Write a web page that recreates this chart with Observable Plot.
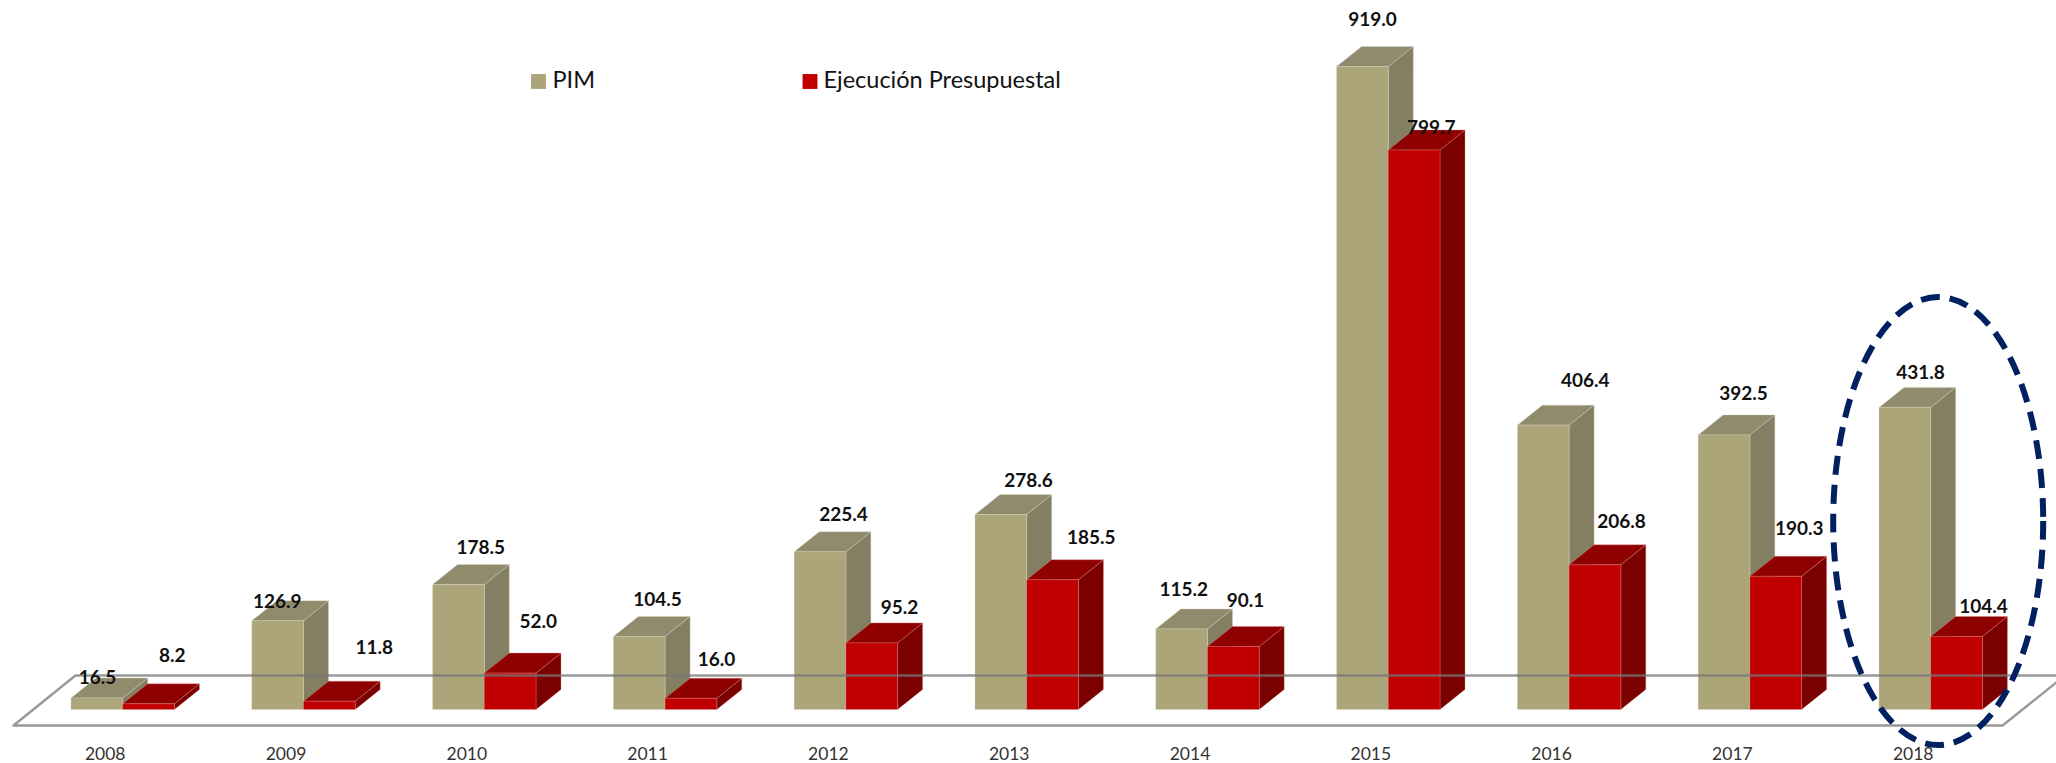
<!DOCTYPE html>
<html>
<head>
<meta charset="utf-8">
<script src="https://cdn.jsdelivr.net/npm/d3@7"></script>
<script src="https://cdn.jsdelivr.net/npm/@observablehq/plot@0.6"></script>
<style>
  html,body{margin:0;padding:0;background:#fff;}
  svg{display:block;}
</style>
</head>
<body>
<div id="chart"></div>
<script>
const years = [2008,2009,2010,2011,2012,2013,2014,2015,2016,2017,2018];
const pim = [16.5,126.9,178.5,104.5,225.4,278.6,115.2,919.0,406.4,392.5,431.8];
const ejecucion = [8.2,11.8,52.0,16.0,95.2,185.5,90.1,799.7,206.8,190.3,104.4];
const seriesNames = ["PIM","Ejecución Presupuestal"];

// label placement, in pixels relative to the top-front of the group
const pimNudgeX = [-25.7,-26.8,-4,-8.1,-2.9,1.3,-24.2,-16.3,15.6,-6.9,-10.7];
const pimNudgeY = [20.3,19.2,36.9,37.4,37.8,34.6,39.9,47.5,45.1,41.2,34.7];
const ejeNudgeX = [49.1,70.2,53.4,50.9,53.1,64,37.5,42.4,51.9,48.8,52.3];
const ejeNudgeY = [48.8,53.8,52.1,39.3,35.2,42,46.5,22.3,43.1,47.6,30.5];

const W = 2056, H = 763, depthX = 25, depthY = 20;
const barW = 0.286; // bar width in years
const rows = years.map((year,i)=>({year,pim:pim[i],eje:ejecucion[i],i}));
const pxX = 1808/10, pxY = 643/919;

function box3d(key, x1, x2, front, top, side, edge){
  return Plot.rect(rows,{
    x1, x2, y1:()=>0, y2:d=>d[key], fill:front, stroke:edge, strokeWidth:1, strokeOpacity:0.35,
    render(index,scales,values,dims,ctx,next){
      const g = next(index,scales,values,dims,ctx);
      const first = g.firstChild;
      for(const i of index){
        const l=values.x1[i], r=values.x2[i], t=Math.min(values.y1[i],values.y2[i]), b=Math.max(values.y1[i],values.y2[i]);
        g.insertBefore(d3.create("svg:polygon")
          .attr("points",[[r,t],[r+depthX,t-depthY],[r+depthX,b-depthY],[r,b]].join(" "))
          .attr("fill",side).node(), first);
        g.insertBefore(d3.create("svg:polygon")
          .attr("points",[[l,t],[l+depthX,t-depthY],[r+depthX,t-depthY],[r,t]].join(" "))
          .attr("fill",top).node(), first);
      }
      return g;
    }
  });
}

const font = "Lato, 'Open Sans', sans-serif";
const floorX = [2007.393,2018.395,2018.74,2007.736,2007.393];
const floorY = [-22.2,-22.2,49.3,49.3,-22.2];
const floor = floorX.map((x,i)=>({x,y:floorY[i]}));

const chart = Plot.plot({
  width:W, height:H, margin:0, marginBottom:20,
  style:{background:"#fff",fontFamily:font,overflow:"hidden"},
  x:{type:"linear",domain:[2008,2018],range:[122.7,1930.7],axis:null},
  y:{domain:[0,919],range:[709.5,66.5],axis:null},
  marks:[
    box3d("pim",d=>d.year-barW,d=>d.year,"#ada57a","#918b6e","#847f63","#d9d6c4"),
    box3d("eje",d=>d.year,d=>d.year+barW,"#c00000","#8f0000","#7b0000","#e08a8a"),
    Plot.line(floor,{x:"x",y:"y",stroke:"#777",strokeWidth:2.4,strokeOpacity:0.75,strokeLinejoin:"miter"}),
    Plot.axisX(years,{anchor:"bottom",tickSize:0,tickPadding:4,dx:-18,dy:0,fontSize:17.5,fill:"#333",tickFormat:d=>String(d),label:null}),
    Plot.text(rows,{x:d=>d.year+pimNudgeX[d.i]/pxX,y:d=>d.pim+pimNudgeY[d.i]/pxY,text:d=>d.pim.toFixed(1),fontSize:19,fontWeight:700,fill:"#111"}),
    Plot.text(rows,{x:d=>d.year+ejeNudgeX[d.i]/pxX,y:d=>d.eje+ejeNudgeY[d.i]/pxY,text:d=>d.eje.toFixed(1),fontSize:19,fontWeight:700,fill:"#111"}),
    // legend
    Plot.dot([seriesNames[0]],{frameAnchor:"top-left",dx:538,dy:81,symbol:"square",r:8.4,fill:"#ada57a"}),
    Plot.dot([seriesNames[1]],{frameAnchor:"top-left",dx:809.5,dy:81,symbol:"square",r:8.4,fill:"#c00000"}),
    Plot.text([seriesNames[0]],{frameAnchor:"top-left",dx:552,dy:80,text:d=>d,textAnchor:"start",lineAnchor:"middle",fontSize:23.5,fill:"#111"}),
    Plot.text([seriesNames[1]],{frameAnchor:"top-left",dx:823,dy:80,text:d=>d,textAnchor:"start",lineAnchor:"middle",fontSize:23.5,fill:"#111"}),
    // highlight ellipse around 2018
    (index,{x,y})=>d3.create("svg:ellipse")
      .attr("cx",x(2018)+7.5).attr("cy",y(0)-188.5)
      .attr("rx",105).attr("ry",224)
      .attr("fill","none").attr("stroke","#002060").attr("stroke-width",6)
      .attr("stroke-dasharray","19 10").node()
  ]
});
document.getElementById("chart").append(chart);
</script>
</body>
</html>
